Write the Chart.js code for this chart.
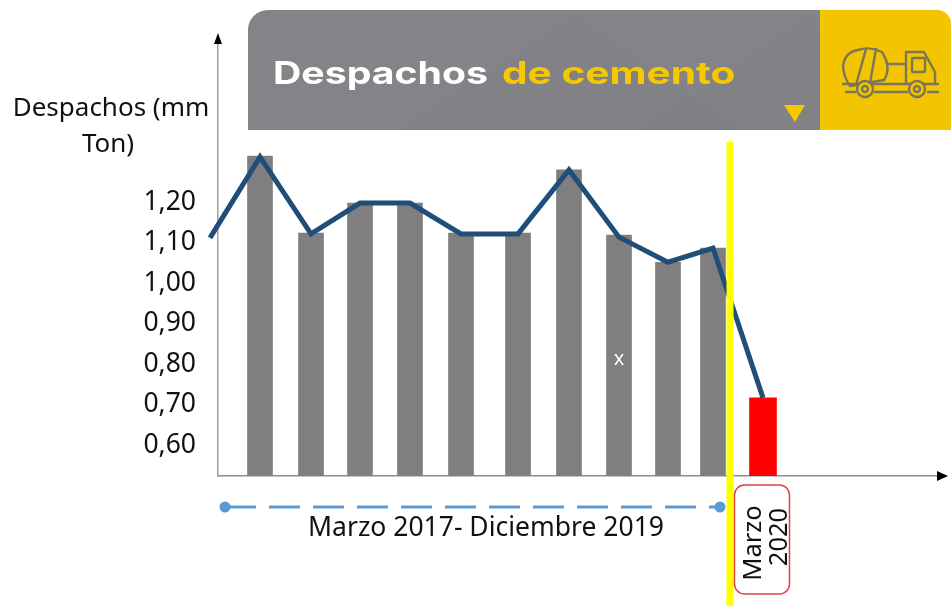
<!DOCTYPE html>
<html lang="es"><head><meta charset="utf-8">
<style>html,body{margin:0;padding:0;background:#fff}#w{width:951px;height:606px;position:relative}</style>
<script src="https://cdn.jsdelivr.net/npm/chart.js@4"></script></head>
<body><div id="w"><canvas id="c" width="951" height="606"></canvas></div>
<script>
const periodPositions=[1,2.02,3,4,5.02,6.16,7.18,8.18,9.16,10.06];
const barValues=[1.31,1.12,1.194,1.194,1.12,1.12,1.276,1.115,1.048,1.083];
const redPosition=[11.06];
const redValue=[0.713];
const linePositions=[0,1,2.02,3,4,5.02,6.16,7.18,8.18,9.16,10.06,11.06];
const lineValues=[1.108,1.308,1.118,1.194,1.194,1.118,1.118,1.276,1.11,1.048,1.083,0.713];
const yTicks=[0.6,0.7,0.8,0.9,1.0,1.1,1.2];
const FONT='"Noto Sans"';

function pts(xs,ys){return xs.map((x,i)=>({x,y:ys[i]}));}
function rr(c,x,y,w,h,r){c.beginPath();c.roundRect(x,y,w,h,r);}

function truck(c){
  c.save();c.strokeStyle='#7c7658';c.lineWidth=2.4;c.lineJoin='round';c.lineCap='round';
  c.beginPath();c.moveTo(858,50);c.quadraticCurveTo(845,52,843,66);c.quadraticCurveTo(844,78,850,86);
  c.lineTo(884,80);c.quadraticCurveTo(892,68,882,52);c.quadraticCurveTo(870,46,858,50);c.stroke();
  c.beginPath();c.moveTo(866,49);c.lineTo(856,85);c.moveTo(876,49);c.lineTo(870,83);c.stroke();
  c.beginPath();c.moveTo(889,64);c.lineTo(906,64);c.moveTo(906,52);c.lineTo(924,52);c.lineTo(935,72);c.lineTo(935,84);
  c.moveTo(906,84);c.lineTo(906,52);c.stroke();
  rr(c,912,58,13,14,1);c.stroke();
  c.beginPath();c.moveTo(843,84);c.lineTo(938,84);c.stroke();
  c.beginPath();c.moveTo(846,92);c.lineTo(855,92);c.moveTo(875,92);c.lineTo(907,92);c.moveTo(928,92);c.lineTo(938,92);c.stroke();
  for(const x of [865,917]){c.beginPath();c.arc(x,89,8,0,7);c.fillStyle='#f2c500';c.fill();c.stroke();
    c.beginPath();c.arc(x,89,3,0,7);c.stroke();}
  c.restore();
}

const decor={id:'decor',
  beforeDraw(ch){
    const c=ch.ctx;c.save();
    rr(c,248,10,573,120,[20,0,0,0]);c.fillStyle='#848387';c.fill();
    c.clip();
    c.fillStyle='rgba(90,90,95,0.05)';
    c.beginPath();c.moveTo(575,18);c.lineTo(400,130);c.lineTo(740,130);c.closePath();c.fill();
    c.beginPath();c.moveTo(815,14);c.lineTo(640,130);c.lineTo(820,130);c.closePath();c.fill();
    c.restore();c.save();
    rr(c,820,10,131,120,[0,14,0,0]);c.fillStyle='#f2c500';c.fill();
    truck(c);
    c.fillStyle='#f5c800';c.beginPath();c.moveTo(784,105);c.lineTo(805,105);c.lineTo(795,122);c.closePath();c.fill();
    c.textBaseline='alphabetic';c.textAlign='left';
    c.font='bold 31px Inter';
    c.save();c.translate(273,84);c.scale(1.265,1);c.fillStyle='#ffffff';c.fillText('Despachos',0,0);c.restore();
    c.save();c.translate(502,84);c.scale(1.31,1);c.fillStyle='#f5c800';c.fillText('de cemento',0,0);c.restore();
    c.restore();
  },
  afterDraw(ch){
    const c=ch.ctx,a=ch.chartArea,xs=ch.scales.x;c.save();
    c.fillStyle='#000';
    c.beginPath();c.moveTo(a.left,a.top-11);c.lineTo(a.left-4,a.top);c.lineTo(a.left+4,a.top);c.closePath();c.fill();
    c.beginPath();c.moveTo(a.right+11,a.bottom);c.lineTo(a.right,a.bottom-5);c.lineTo(a.right,a.bottom+5);c.closePath();c.fill();
    const yx=xs.getPixelForValue(10.4);
    c.fillStyle='#ffff00';c.fillRect(yx-3.5,142,7,464);
    const x1=xs.getPixelForValue(0.3),x2=xs.getPixelForValue(10.2),yd=507;
    c.strokeStyle='#5b9bd5';c.lineWidth=3.2;c.setLineDash([31,13]);c.beginPath();c.moveTo(x1,yd);c.lineTo(x2,yd);c.stroke();c.setLineDash([]);
    c.fillStyle='#5b9bd5';for(const x of [x1,x2]){c.beginPath();c.arc(x,yd,5.5,0,7);c.fill();}
    c.fillStyle='#111';c.textBaseline='alphabetic';
    c.font='26px '+FONT;c.textAlign='center';
    c.fillText('Despachos (mm',111,116);c.fillText('Ton)',108,152);
    c.font='26.5px '+FONT;c.fillText('Marzo 2017- Diciembre 2019',486,536);
    c.fillStyle='#fff';c.font='20px '+FONT;c.fillText('x',619,365);
    rr(c,734.5,485,55,109,10);c.strokeStyle='#e0404a';c.lineWidth=1.5;c.stroke();
    c.fillStyle='#111';c.font='25.5px '+FONT;
    c.save();c.translate(761,543);c.rotate(-Math.PI/2);c.fillText('Marzo',0,0);c.restore();
    c.save();c.translate(787,537);c.rotate(-Math.PI/2);c.fillText('2020',0,0);c.restore();
    c.restore();
  }
};

new Chart(document.getElementById('c'),{
  data:{datasets:[
    {type:'line',data:pts(linePositions,lineValues),borderColor:'#1f4e79',borderWidth:5,pointRadius:0,tension:0,clip:false,order:0,borderJoinStyle:'miter'},
    {type:'bar',data:pts(periodPositions,barValues),backgroundColor:'#7f7f7f',barThickness:25,grouped:false,order:2},
    {type:'bar',data:pts(redPosition,redValue),backgroundColor:'#ff0000',barThickness:27,grouped:false,order:1}
  ]},
  options:{responsive:false,animation:false,
    layout:{padding:{top:44,bottom:130,right:14,left:0}},
    plugins:{legend:{display:false},tooltip:{enabled:false}},
    scales:{
      x:{type:'linear',min:0.16,max:14.54,offset:false,
        grid:{display:false},ticks:{display:false},border:{color:'#8c8c8c',width:1.5},
        afterFit(s){s.height=0;}},
      y:{min:0.52,max:1.587,
        grid:{display:false,drawTicks:false},border:{color:'#a0a0a0',width:1.5},
        afterFit(s){s.width=218;},
        afterBuildTicks(s){s.ticks=yTicks.map(v=>({value:v}));},
        ticks:{padding:22,labelOffset:1.5,color:'#111',font:{family:FONT,size:26.5},autoSkip:false,
          callback:v=>v.toFixed(2).replace('.',',')}}
    }
  },
  plugins:[decor]
});
</script></body></html>
